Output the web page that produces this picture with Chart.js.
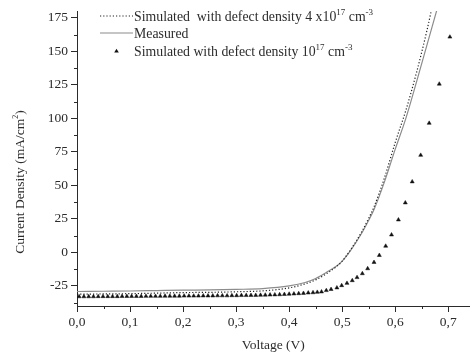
<!DOCTYPE html>
<html>
<head>
<meta charset="utf-8">
<script src="https://cdn.jsdelivr.net/npm/chart.js@4.4.1/dist/chart.umd.min.js"></script>
<style>
  html, body { margin: 0; padding: 0; background: #fff; }
  #wrap { width: 474px; height: 356px; position: relative; }
</style>
</head>
<body>
<div id="wrap"><canvas id="jv"></canvas></div>
<script>
// Measured J-V curve (grey solid line)
const voltageMeasured = [0.00, 0.05, 0.10, 0.15, 0.20, 0.25, 0.30, 0.35, 0.40, 0.43, 0.45, 0.47, 0.49, 0.50, 0.515, 0.537, 0.55, 0.56, 0.58, 0.60, 0.62, 0.64, 0.66, 0.68];
const currentMeasured = [-29.2, -29.0, -28.8, -28.5, -28.2, -28.0, -27.6, -27.0, -25.0, -22.5, -19.5, -15.0, -10.0, -6.5, 1.0, 14.5, 24.0, 32.0, 53.0, 77.0, 100.0, 127.0, 155.0, 183.0];

// Simulated, defect density 4x10^17 (dotted line)
const voltageSim4e17 = [0.00, 0.05, 0.10, 0.15, 0.20, 0.25, 0.30, 0.35, 0.40, 0.43, 0.45, 0.47, 0.49, 0.50, 0.515, 0.537, 0.55, 0.56, 0.58, 0.60, 0.62, 0.64, 0.66, 0.67];
const currentSim4e17 = [-31.2, -31.0, -30.8, -30.4, -30.0, -29.8, -29.4, -28.7, -26.5, -23.5, -20.5, -16.0, -10.3, -6.5, 1.5, 15.5, 25.5, 34.0, 56.0, 82.0, 106.0, 134.0, 166.0, 184.0];

// Simulated, defect density 10^17 (triangles)
const voltageSim1e17 = [0.004, 0.013, 0.022, 0.031, 0.040, 0.049, 0.058, 0.067, 0.076, 0.085, 0.094, 0.103, 0.112, 0.121, 0.130, 0.139, 0.148, 0.157, 0.166, 0.175, 0.184, 0.193, 0.202, 0.211, 0.220, 0.229, 0.238, 0.247, 0.256, 0.265, 0.274, 0.283, 0.292, 0.301, 0.310, 0.319, 0.328, 0.337, 0.346, 0.355, 0.364, 0.373, 0.382, 0.391, 0.400, 0.409, 0.418, 0.427, 0.436, 0.445, 0.453, 0.461, 0.470, 0.479, 0.490, 0.499, 0.509, 0.519, 0.528, 0.538, 0.548, 0.560, 0.570, 0.582, 0.593, 0.606, 0.619, 0.632, 0.648, 0.664, 0.683, 0.703];
const currentSim1e17 = [-33.0, -33.0, -33.0, -33.0, -32.9, -32.9, -32.9, -32.9, -32.9, -32.8, -32.8, -32.8, -32.8, -32.8, -32.7, -32.7, -32.7, -32.7, -32.6, -32.6, -32.6, -32.6, -32.5, -32.5, -32.5, -32.5, -32.4, -32.4, -32.4, -32.3, -32.3, -32.3, -32.2, -32.2, -32.1, -32.1, -32.0, -32.0, -31.9, -31.8, -31.7, -31.6, -31.5, -31.3, -31.1, -30.9, -30.7, -30.5, -30.2, -30.0, -29.7, -29.4, -28.4, -27.6, -26.4, -24.7, -23.0, -21.0, -18.7, -15.8, -12.1, -7.4, -2.2, 4.7, 13.1, 24.3, 37.0, 52.7, 72.5, 96.4, 125.6, 160.7];

// axes
const xTicks = [0.0, 0.1, 0.2, 0.3, 0.4, 0.5, 0.6, 0.7];
const xMinorTicks = [0.05, 0.15, 0.25, 0.35, 0.45, 0.55, 0.65];
const yTicks = [-25, 0, 25, 50, 75, 100, 125, 150, 175];
const yMinorTicks = [-37.5, -12.5, 12.5, 37.5, 62.5, 87.5, 112.5, 137.5, 162.5];

// legend / title text, with superscript pieces
const legendSim4e17 = [['Simulated  with defect density 4 x10'], ['17', 'sup'], [' cm'], ['-3', 'sup']];
const legendMeasured = [['Measured']];
const legendSim1e17 = [['Simulated with defect density 10'], ['17', 'sup'], [' cm'], ['-3', 'sup']];
const yTitleParts = [['Current Density (mA/cm'], ['2', 'sup'], [')']];

const FONT = '"Liberation Serif", "DejaVu Serif", serif';
const INK = '#2b2b2b';

function toPoints(xs, ys) {
    return xs.map((v, i) => ({ x: v, y: ys[i] }));
}

function drawRich(ctx, parts, x, y, size) {
    let cx = x;
    parts.forEach(([t, kind]) => {
        if (kind === 'sup') {
            ctx.font = `${Math.round(size * 0.62)}px ${FONT}`;
            ctx.fillText(t, cx, y - size * 0.42);
        } else {
            ctx.font = `${size}px ${FONT}`;
            ctx.fillText(t, cx, y);
        }
        cx += ctx.measureText(t).width;
    });
    return cx - x;
}

function richWidth(ctx, parts, size) {
    let w = 0;
    parts.forEach(([t, kind]) => {
        ctx.font = `${kind === 'sup' ? Math.round(size * 0.62) : size}px ${FONT}`;
        w += ctx.measureText(t).width;
    });
    return w;
}

const decorPlugin = {
    id: 'decor',
    afterDraw(chart) {
        const { ctx, scales: { x, y } } = chart;
        ctx.save();
        ctx.strokeStyle = INK;
        ctx.lineWidth = 1;

        // minor ticks
        xMinorTicks.forEach(v => {
            const px = Math.round(x.getPixelForValue(v)) + 0.5;
            ctx.beginPath(); ctx.moveTo(px, y.bottom); ctx.lineTo(px, y.bottom + 3); ctx.stroke();
        });
        yMinorTicks.forEach(v => {
            const py = Math.round(y.getPixelForValue(v)) + 0.5;
            ctx.beginPath(); ctx.moveTo(x.left, py); ctx.lineTo(x.left - 3, py); ctx.stroke();
        });

        // y axis title
        ctx.fillStyle = INK;
        ctx.textBaseline = 'alphabetic';
        ctx.save();
        ctx.translate(24, 182);
        ctx.rotate(-Math.PI / 2);
        const tw = richWidth(ctx, yTitleParts, 13.5);
        drawRich(ctx, yTitleParts, -tw / 2, 0, 13.5);
        ctx.restore();

        // legend
        const ds = chart.data.datasets;
        const lx0 = 100, lx1 = 133, tx = 134;
        const rows = [20.5, 37.5, 55.5];

        ctx.strokeStyle = ds[0].borderColor;
        ctx.lineWidth = ds[0].borderWidth;
        ctx.setLineDash(ds[0].borderDash);
        ctx.beginPath(); ctx.moveTo(lx0, rows[0] - 4.5); ctx.lineTo(lx1, rows[0] - 4.5); ctx.stroke();
        ctx.setLineDash([]);
        ctx.strokeStyle = ds[1].borderColor;
        ctx.lineWidth = ds[1].borderWidth;
        ctx.beginPath(); ctx.moveTo(lx0, rows[1] - 4.5); ctx.lineTo(lx1, rows[1] - 4.5); ctx.stroke();

        ctx.fillStyle = ds[2].backgroundColor;
        const mx = (lx0 + lx1) / 2, my = rows[2] - 4.5, r = ds[2].pointRadius;
        ctx.beginPath();
        ctx.moveTo(mx, my - r);
        ctx.lineTo(mx + r, my + r * 0.7);
        ctx.lineTo(mx - r, my + r * 0.7);
        ctx.closePath(); ctx.fill();

        ctx.fillStyle = INK;
        drawRich(ctx, legendSim4e17, tx, rows[0], 13.8);
        drawRich(ctx, legendMeasured, tx, rows[1], 13.8);
        drawRich(ctx, legendSim1e17, tx, rows[2], 13.8);
        ctx.restore();
    }
};

new Chart(document.getElementById('jv'), {
    type: 'scatter',
    data: {
        datasets: [
            {
                label: 'Simulated with defect density 4x10^17 cm^-3',
                data: toPoints(voltageSim4e17, currentSim4e17),
                showLine: true, pointRadius: 0, cubicInterpolationMode: 'monotone',
                borderColor: '#222', borderWidth: 1.2, borderDash: [1.2, 2]
            },
            {
                label: 'Measured',
                data: toPoints(voltageMeasured, currentMeasured),
                showLine: true, pointRadius: 0, cubicInterpolationMode: 'monotone',
                borderColor: '#8c8c8c', borderWidth: 1.2
            },
            {
                label: 'Simulated with defect density 10^17 cm^-3',
                data: toPoints(voltageSim1e17, currentSim1e17),
                showLine: false, pointStyle: 'triangle', pointRadius: 2.3,
                backgroundColor: '#111', borderColor: '#111', borderWidth: 0.5
            }
        ]
    },
    options: {
        responsive: true, maintainAspectRatio: false, animation: false,
        layout: { padding: { top: 8, right: 0, left: 0, bottom: 0 } },
        plugins: { legend: { display: false }, tooltip: { enabled: false } },
        scales: {
            x: {
                type: 'linear', min: 0, max: 0.74,
                afterBuildTicks: s => { s.ticks = xTicks.map(v => ({ value: v })); },
                afterFit: s => { s.height = 50; },
                border: { display: true, color: INK, width: 1 },
                grid: { drawOnChartArea: false, drawTicks: true, tickLength: 6, color: INK },
                ticks: {
                    color: INK, font: { family: FONT, size: 13.5 }, padding: 2, maxRotation: 0,
                    callback: v => v.toFixed(1).replace('.', ',')
                },
                title: { display: true, text: 'Voltage (V)', color: INK, font: { family: FONT, size: 13.5 }, padding: { top: 0, bottom: 2 } }
            },
            y: {
                type: 'linear', min: -40, max: 180,
                afterBuildTicks: s => { s.ticks = yTicks.map(v => ({ value: v })); },
                afterFit: s => { s.width = 77; },
                border: { display: true, color: INK, width: 1 },
                grid: { drawOnChartArea: false, drawTicks: true, tickLength: 6, color: INK },
                ticks: { color: INK, font: { family: FONT, size: 13.5 }, padding: 3 }
            }
        }
    },
    plugins: [decorPlugin]
});
</script>
</body>
</html>
